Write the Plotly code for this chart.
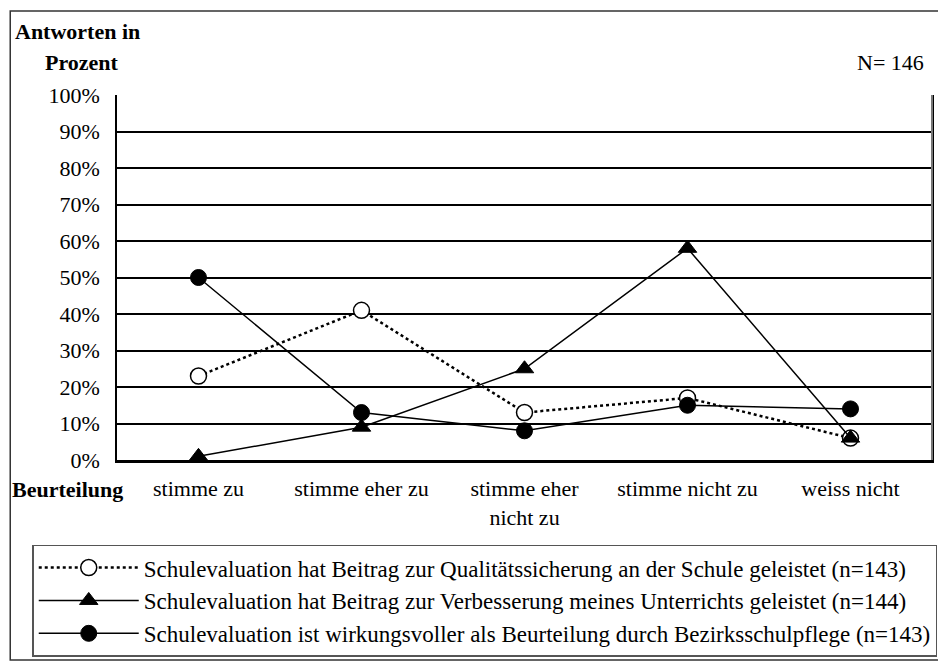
"""
Liniendiagramm: Beurteilung der Schulevaluation (Antworten in Prozent).
"""
import plotly.graph_objects as go

# categories on the x axis
categories = ["stimme zu", "stimme eher zu", "stimme eher<br>nicht zu", "stimme nicht zu", "weiss nicht"]

# series values (percent)
qualitaet = [23, 41, 13, 17, 6]
verbesserung = [1, 9, 25, 58, 6]
wirkungsvoll = [50, 13, 8, 15, 14]

names = [
    "Schulevaluation hat Beitrag zur Qualitätssicherung an der Schule geleistet (n=143)",
    "Schulevaluation hat Beitrag zur Verbesserung meines Unterrichts geleistet (n=144)",
    "Schulevaluation ist wirkungsvoller als Beurteilung durch Bezirksschulpflege (n=143)",
]

y_ticks = list(range(0, 101, 10))
y_labels = [f"{v}%" for v in y_ticks]

FONT = "Liberation Serif"

fig = go.Figure()

fig.add_trace(go.Scatter(
    x=categories, y=qualitaet, name=names[0], mode="lines+markers",
    line=dict(color="black", width=2.5, dash="dot"),
    marker=dict(symbol="circle", size=16, color="white", line=dict(color="black", width=1.5)),
))
fig.add_trace(go.Scatter(
    x=categories, y=verbesserung, name=names[1], mode="lines+markers",
    line=dict(color="black", width=1.5),
    marker=dict(symbol="triangle-up", size=16, color="black", line=dict(color="black", width=1)),
))
fig.add_trace(go.Scatter(
    x=categories, y=wirkungsvoll, name=names[2], mode="lines+markers",
    line=dict(color="black", width=1.5),
    marker=dict(symbol="circle", size=16, color="black", line=dict(color="black", width=1)),
))

# page body adds 8px margin, so the figure is 8px smaller than the window
fig.update_layout(
    width=938, height=660,
    margin=dict(l=109, r=12, t=87, b=208),
    paper_bgcolor="white", plot_bgcolor="white",
    font=dict(family=FONT, size=22, color="black"),
    showlegend=True,
    legend=dict(
        x=-0.104, xanchor="left",
        y=0.187, yref="container", yanchor="top",
        bordercolor="#555", borderwidth=1.5, bgcolor="white",
        font=dict(family=FONT, size=23), tracegroupgap=0,
        itemwidth=100,
    ),
    xaxis=dict(
        type="category", range=[-0.5, 4.5], showgrid=False,
        showline=True, linecolor="black", linewidth=2.5, mirror=False,
        ticks="", tickfont=dict(size=22), ticklabelstandoff=7,
    ),
    yaxis=dict(
        range=[0, 100], tickvals=y_ticks, ticktext=y_labels,
        showgrid=True, gridcolor="black", gridwidth=1.8,
        showline=True, linecolor="black", linewidth=1.5, mirror=True,
        zeroline=False, ticks="", tickfont=dict(size=22), ticklabelstandoff=11,
    ),
)

# right edge of the plot area is grey
fig.add_shape(type="line", xref="paper", yref="paper", x0=1, x1=1, y0=0, y1=1,
              line=dict(color="#777", width=2))

# outer frame (runs off the right edge)
fig.add_shape(type="rect", xref="paper", yref="paper",
              x0=-0.131, x1=1.03, y0=-0.548, y1=1.23,
              line=dict(color="#333", width=1.5), layer="below")

fig.add_annotation(text="<b>Antworten in</b>", xref="paper", yref="paper",
                   x=-0.127, y=1.173, xanchor="left", yanchor="middle", showarrow=False,
                   font=dict(size=22))
fig.add_annotation(text="<b>Prozent</b>", xref="paper", yref="paper",
                   x=-0.0906, y=1.09, xanchor="left", yanchor="middle", showarrow=False,
                   font=dict(size=22))
fig.add_annotation(text="N= 146", xref="paper", yref="paper",
                   x=0.993, y=1.09, xanchor="right", yanchor="middle", showarrow=False,
                   font=dict(size=22))
fig.add_annotation(text="<b>Beurteilung</b>", xref="paper", yref="paper",
                   x=-0.131, y=-0.082, xanchor="left", yanchor="middle", showarrow=False,
                   font=dict(size=22))

fig.write_html("out.html")
